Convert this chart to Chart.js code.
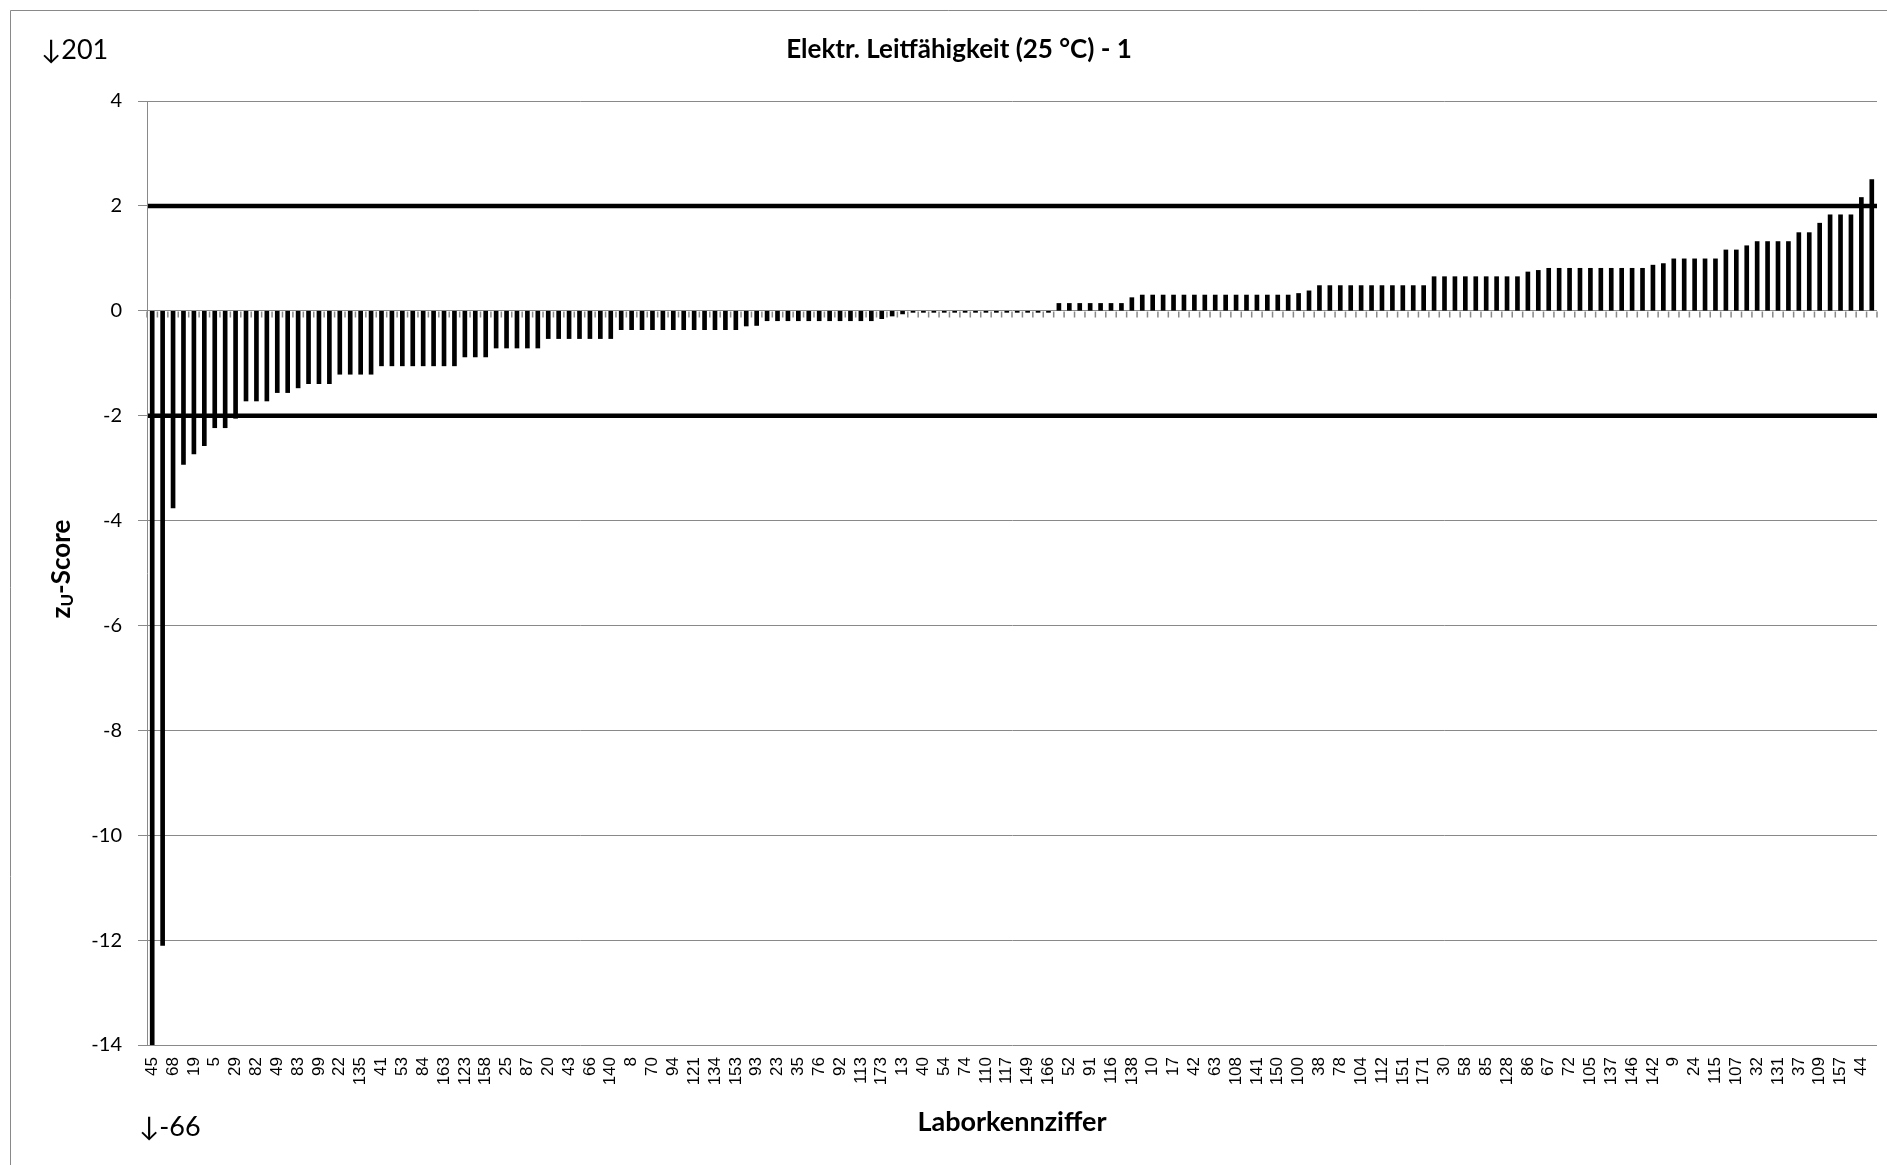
<!DOCTYPE html>
<html>
<head>
<meta charset="utf-8">
<script src="https://cdn.jsdelivr.net/npm/chart.js@4/dist/chart.umd.min.js"></script>
<style>
    html, body { margin: 0; padding: 0; background: #fff; overflow: hidden; }
    #wrap { position: relative; width: 1887px; height: 1165px; }
</style>
</head>
<body>
<div id="wrap"><canvas id="zscore-chart" width="1887" height="1165"></canvas></div>
<script>
// lab numbers, Excel only prints every second one
const tickLabels = [
    "45", "68", "19", "5", "29", "82", "49", "83", "99", "22", "135", "41", "53", "84", "163", "123", "158", "25", "87", "20", "43",
    "66", "140", "8", "70", "94", "121", "134", "153", "93", "23", "35", "76", "92", "113", "173", "13", "40", "54", "74", "110", "117",
    "149", "166", "52", "91", "116", "138", "10", "17", "42", "63", "108", "141", "150", "100", "38", "78", "104", "112", "151", "171", "30",
    "58", "85", "128", "86", "67", "72", "105", "137", "146", "142", "9", "24", "115", "107", "32", "131", "37", "109", "157", "44"
];

// z_U scores, one per lab, sorted
const zScores = [
    -66, -12.1, -3.76, -2.93, -2.73, -2.57, -2.23, -2.23, -2.05, -1.72,
    -1.72, -1.72, -1.56, -1.56, -1.47, -1.39, -1.39, -1.39, -1.21, -1.21,
    -1.21, -1.21, -1.05, -1.05, -1.05, -1.05, -1.05, -1.05, -1.05, -1.05,
    -0.88, -0.88, -0.88, -0.71, -0.71, -0.71, -0.71, -0.71, -0.53, -0.53,
    -0.53, -0.53, -0.53, -0.53, -0.53, -0.36, -0.36, -0.36, -0.36, -0.36,
    -0.36, -0.36, -0.36, -0.36, -0.36, -0.36, -0.36, -0.29, -0.28, -0.19,
    -0.19, -0.19, -0.19, -0.19, -0.19, -0.19, -0.19, -0.19, -0.19, -0.19,
    -0.15, -0.1, -0.06, -0.03, -0.03, -0.03, -0.03, -0.03, -0.03, -0.03,
    -0.03, -0.03, -0.03, -0.03, -0.03, -0.03, -0.03, 0.14, 0.14, 0.14,
    0.14, 0.14, 0.14, 0.14, 0.25, 0.3, 0.3, 0.3, 0.3, 0.3,
    0.3, 0.3, 0.3, 0.3, 0.3, 0.3, 0.3, 0.3, 0.3, 0.3,
    0.33, 0.38, 0.48, 0.48, 0.48, 0.48, 0.48, 0.48, 0.48, 0.48,
    0.48, 0.48, 0.48, 0.65, 0.65, 0.65, 0.65, 0.65, 0.65, 0.65,
    0.65, 0.65, 0.74, 0.77, 0.81, 0.81, 0.81, 0.81, 0.81, 0.81,
    0.81, 0.81, 0.81, 0.81, 0.87, 0.9, 0.99, 0.99, 0.99, 0.99,
    0.99, 1.16, 1.16, 1.24, 1.32, 1.32, 1.32, 1.32, 1.49, 1.49,
    1.67, 1.83, 1.83, 1.83, 2.16, 2.5
];

const limitLines = [2, -2];
const yTicks = { min: -14, max: 4, step: 2 };

const chartTitle = "Elektr. Leitfähigkeit (25 °C) - 1";
const xTitle = "Laborkennziffer";
const offScaleTop = "\u2193201";
const offScaleBottom = "\u2193-66";

const categories = zScores.map((v, i) => (i % 2 === 0 ? tickLabels[i / 2] : ""));

const gridGray = "#898989";
const labelFont = "Lato, 'Open Sans', sans-serif";

// thick black lines at +-2
const limitLinesPlugin = {
    id: "limitLines",
    afterDatasetsDraw(chart) {
        const { ctx, chartArea, scales } = chart;
        ctx.save();
        ctx.strokeStyle = "#000";
        ctx.lineWidth = 4.5;
        for (const v of limitLines) {
            const y = scales.y.getPixelForValue(v);
            ctx.beginPath();
            ctx.moveTo(chartArea.left + 1, y);
            ctx.lineTo(chartArea.right, y);
            ctx.stroke();
        }
        ctx.restore();
    }
};

// small category ticks hanging under the zero line
const zeroTicksPlugin = {
    id: "zeroTicks",
    beforeDatasetsDraw(chart) {
        const { ctx, scales } = chart;
        const x = scales.x;
        const y0 = Math.round(scales.y.getPixelForValue(0)) + 0.5;
        const half = (x.getPixelForValue(1) - x.getPixelForValue(0)) / 2;
        ctx.save();
        ctx.strokeStyle = gridGray;
        ctx.lineWidth = 1.5;
        ctx.beginPath();
        for (let i = 0; i <= zScores.length; i++) {
            const px = x.getPixelForValue(i) - half;
            ctx.moveTo(px, y0);
            ctx.lineTo(px, y0 + 6);
        }
        ctx.stroke();
        ctx.restore();
    }
};

// title, off-scale notes, y title with subscript, outer frame
const textPlugin = {
    id: "texts",
    afterDraw(chart) {
        const { ctx } = chart;
        ctx.save();

        ctx.strokeStyle = gridGray;
        ctx.lineWidth = 1;
        ctx.beginPath();
        ctx.moveTo(10.5, 1165);
        ctx.lineTo(10.5, 10.5);
        ctx.lineTo(1887, 10.5);
        ctx.stroke();

        ctx.fillStyle = "#000";
        ctx.textBaseline = "middle";
        ctx.textAlign = "center";
        ctx.font = "bold 26px " + labelFont;
        ctx.fillText(chartTitle, 959, 50);

        ctx.textAlign = "left";
        ctx.font = "27px " + labelFont;
        ctx.fillText(offScaleTop, 41, 50);
        ctx.fillText(offScaleBottom, 139, 1127);

        // z_U-Score, rotated
        const big = "bold 26px " + labelFont;
        const small = "bold 17px " + labelFont;
        ctx.font = big;
        const wz = ctx.measureText("z").width;
        const ws = ctx.measureText("-Score").width;
        ctx.font = small;
        const wu = ctx.measureText("U").width;
        const total = wz + wu + ws;
        ctx.translate(62, 569);
        ctx.rotate(-Math.PI / 2);
        let x0 = -total / 2;
        ctx.font = big;
        ctx.fillText("z", x0, 0);
        ctx.font = small;
        ctx.fillText("U", x0 + wz, 6);
        ctx.font = big;
        ctx.fillText("-Score", x0 + wz + wu, 0);

        ctx.restore();
    }
};

const ctx = document.getElementById("zscore-chart").getContext("2d");
const zChart = new Chart(ctx, {
    type: "bar",
    data: {
        labels: categories,
        datasets: [{
            label: "z_U-Score",
            data: zScores,
            backgroundColor: "#000",
            borderWidth: 0,
            barThickness: 4
        }]
    },
    options: {
        responsive: false,
        animation: false,
        layout: { padding: { top: 101, left: 0, right: 10, bottom: 0 } },
        plugins: {
            legend: { display: false },
            title: { display: false },
            tooltip: { enabled: false }
        },
        scales: {
            x: {
                afterFit: (scale) => {
                    scale.height = 120;
                    scale.paddingLeft = 0;
                    scale.paddingRight = 0;
                },
                grid: { display: false, drawTicks: false },
                border: { display: false },
                ticks: {
                    autoSkip: false,
                    maxRotation: 90,
                    minRotation: 90,
                    padding: 12,
                    color: "#000",
                    font: { family: "'Liberation Sans', Arial, sans-serif", size: 17 }
                },
                title: {
                    display: true,
                    text: xTitle,
                    color: "#000",
                    font: { family: labelFont, size: 27, weight: "bold" },
                    padding: { top: 0, bottom: 27 }
                }
            },
            y: {
                min: yTicks.min,
                max: yTicks.max,
                afterFit: (scale) => { scale.width = 147; },
                grid: { color: gridGray, lineWidth: 1, tickLength: 9, tickColor: gridGray },
                border: { color: gridGray, width: 1 },
                ticks: {
                    stepSize: yTicks.step,
                    padding: 16,
                    color: "#000",
                    font: { family: labelFont, size: 20 }
                }
            }
        }
    },
    plugins: [zeroTicksPlugin, limitLinesPlugin, textPlugin]
});
</script>
</body>
</html>
